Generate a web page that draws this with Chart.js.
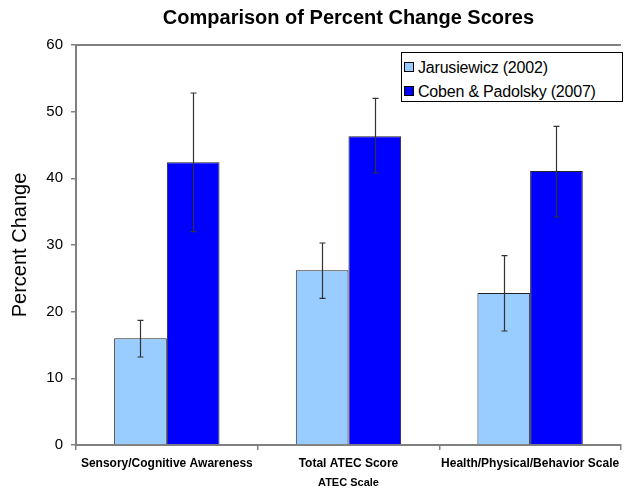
<!DOCTYPE html>
<html>
<head>
<meta charset="utf-8">
<script src="https://cdn.jsdelivr.net/npm/chart.js@4.4.0/dist/chart.umd.min.js"></script>
<style>
  body { margin: 0; background: #fff; }
  #wrap { position: relative; width: 626px; height: 490px; }
  #legend {
    position: absolute; left: 401px; top: 52px; width: 222px; height: 50px;
    border: 1px solid #000; background: #fff; box-sizing: border-box;
    font-family: "Liberation Sans", Arial, sans-serif; font-size: 16px; color: #000;
    padding: 3px 0 0 2px; letter-spacing: -0.2px;
  }
  #legend div { height: 24px; line-height: 24px; white-space: nowrap; }
  #legend span.sw {
    display: inline-block; width: 8px; height: 8px; border: 1px solid #000;
    margin-right: 4px; vertical-align: 1px;
  }
</style>
</head>
<body>
<div id="wrap">
  <canvas id="chart" width="626" height="490"></canvas>
  <div id="legend"></div>
</div>
<script>
const categories = ["Sensory/Cognitive Awareness", "Total ATEC Score", "Health/Physical/Behavior Scale"];
const seriesNames = ["Jarusiewicz (2002)", "Coben & Padolsky (2007)"];
const jarusiewicz = [16.0, 26.2, 22.8];
const jarusiewiczLow = [13.2, 22.0, 17.1];
const jarusiewiczHigh = [18.7, 30.3, 28.4];
const coben = [42.4, 46.3, 41.1];
const cobenLow = [32.0, 40.8, 34.2];
const cobenHigh = [52.8, 52.0, 47.8];
const yTicks = [0, 10, 20, 30, 40, 50, 60];

const colors = ["#99ccff", "#0000ff"];
const errLow = [jarusiewiczLow, cobenLow];
const errHigh = [jarusiewiczHigh, cobenHigh];
const font = "'Liberation Sans', Arial, sans-serif";

// legend box inside the plot
const legendEl = document.getElementById("legend");
seriesNames.forEach((name, i) => {
  const row = document.createElement("div");
  const sw = document.createElement("span");
  sw.className = "sw";
  sw.style.background = colors[i];
  row.appendChild(sw);
  row.appendChild(document.createTextNode(name));
  legendEl.appendChild(row);
});

// error bars and top frame line
const extras = {
  id: "extras",
  afterDatasetsDraw(chart) {
    const ctx = chart.ctx, y = chart.scales.y, area = chart.chartArea;
    ctx.save();
    ctx.strokeStyle = "#808080";
    ctx.lineWidth = 2;
    ctx.beginPath();
    ctx.moveTo(area.left, area.top);
    ctx.lineTo(area.right, area.top);
    ctx.stroke();

    ctx.strokeStyle = "#333";
    ctx.lineWidth = 1.2;
    chart.data.datasets.forEach((ds, i) => {
      chart.getDatasetMeta(i).data.forEach((bar, j) => {
        const x = Math.round(bar.x) + 0.5;
        const t = y.getPixelForValue(errHigh[i][j]);
        const b = y.getPixelForValue(errLow[i][j]);
        ctx.beginPath();
        ctx.moveTo(x, t); ctx.lineTo(x, b);
        ctx.moveTo(x - 3, t); ctx.lineTo(x + 3, t);
        ctx.moveTo(x - 3, b); ctx.lineTo(x + 3, b);
        ctx.stroke();
      });
    });
    ctx.restore();
  }
};

new Chart(document.getElementById("chart").getContext("2d"), {
  type: "bar",
  data: {
    labels: categories,
    datasets: [
      { label: seriesNames[0], data: jarusiewicz, backgroundColor: colors[0] },
      { label: seriesNames[1], data: coben, backgroundColor: colors[1] }
    ]
  },
  options: {
    responsive: false,
    animation: false,
    devicePixelRatio: 1,
    layout: { padding: { left: 0, right: 0, top: 0, bottom: 0 } },
    datasets: {
      bar: { borderColor: "#222", borderWidth: 1, categoryPercentage: 0.58, barPercentage: 1.0 }
    },
    plugins: {
      legend: { display: false },
      tooltip: { enabled: false },
      title: {
        display: true,
        fullSize: false,
        text: "Comparison of Percent Change Scores",
        color: "#000",
        font: { family: font, size: 20, weight: "bold" },
        padding: { top: 6, bottom: 15 }
      }
    },
    scales: {
      y: {
        min: 0, max: 60,
        afterBuildTicks(scale) { scale.ticks = yTicks.map(v => ({ value: v })); },
        afterFit(scale) { scale.width = 76; },
        ticks: { color: "#000", font: { family: font, size: 15 }, padding: 8 },
        grid: { drawOnChartArea: false, tickLength: 5, color: "#808080", lineWidth: 1.5 },
        border: { color: "#808080", width: 2 },
        title: {
          display: true, text: "Percent Change", color: "#000",
          font: { family: font, size: 20 }, padding: { top: 8, bottom: 4 }
        }
      },
      x: {
        afterFit(scale) { scale.height = 45; },
        ticks: {
          color: "#000", font: { family: font, size: 12, weight: "bold" },
          maxRotation: 0, autoSkip: false, padding: 6
        },
        grid: { drawOnChartArea: false, tickLength: 5, offset: true, color: "#808080", lineWidth: 1.5 },
        border: { color: "#808080", width: 2 },
        title: {
          display: true, text: "ATEC Scale", color: "#000",
          font: { family: font, size: 11, weight: "bold" }, padding: { top: 2, bottom: 0 }
        }
      }
    }
  },
  plugins: [extras]
});
</script>
</body>
</html>
